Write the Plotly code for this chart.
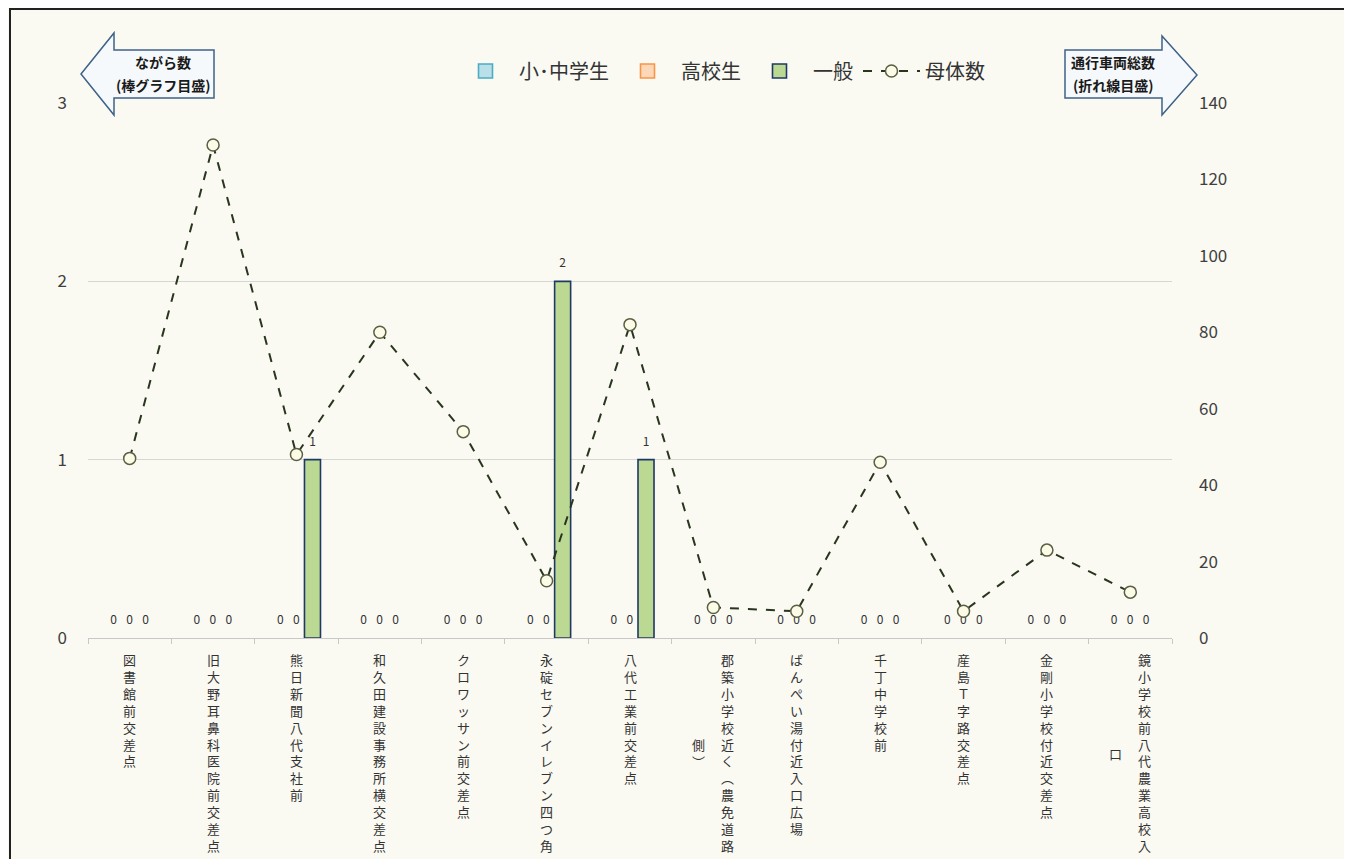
import plotly.graph_objects as go

# ---------------- data ----------------
categories = [
    "図書館前交差点",
    "旧大野耳鼻科医院前交差点",
    "熊日新聞八代支社前",
    "和久田建設事務所横交差点",
    "クロワッサン前交差点",
    "永碇セブンイレブン四つ角",
    "八代工業前交差点",
    "郡築小学校近く（農免道路側）",
    "ばんぺい湯付近 入口広場",
    "千丁中学校前",
    "産島Ｔ字路交差点",
    "金剛小学校付近交差点",
    "鏡小学校前 八代農業高校入口",
]
series_names = ["小･中学生", "高校生", "一般"]
elementary = [0, 0, 0, 0, 0, 0, 0, 0, 0, 0, 0, 0, 0]
high_school = [0, 0, 0, 0, 0, 0, 0, 0, 0, 0, 0, 0, 0]
general = [0, 0, 1, 0, 0, 2, 1, 0, 0, 0, 0, 0, 0]
line_name = "母体数"
total_vehicles = [47, 129, 48, 80, 54, 15, 82, 8, 7, 46, 7, 23, 12]
left_ticks = [0, 1, 2, 3]
right_ticks = [0, 20, 40, 60, 80, 100, 120, 140]
left_arrow_text = ["ながら数", "(棒グラフ目盛)"]
right_arrow_text = ["通行車両総数", "(折れ線目盛)"]

# ---------------- layout helpers ----------------
OFF = 8  # page body margin of the browser
W, H = 1352 - 2 * OFF, 867 - 2 * OFF
# plot area in reference-picture pixels
RL, RR, RT, RB = 88, 1172, 103, 638
PL, PR, PT, PB = RL - OFF, RR - OFF, RT - OFF, RB - OFF
FONT = "Noto Sans CJK JP"
BG = "#fafaf3"
LABEL_SIZE = 13
LH = 1.3 * LABEL_SIZE


def px_x(p):
    return (p - RL) / (RR - RL)


def px_y(p):
    return (RB - p) / (RB - RT)


# where long vertical labels wrap into a second column
column_break = {7: 12, 12: 13}
vert_map = str.maketrans({"（": "︵", "）": "︶"})


def chars(s):
    return [ch for ch in s.translate(vert_map) if ch != " "]


def stack(s):
    return "<br>".join(chars(s))


fig = go.Figure()

bar_styles = [
    dict(fill="#b9dfe9", line="#4bacc6"),
    dict(fill="#fcd7b8", line="#f79646"),
    dict(fill="#bcd994", line="#1f3864"),
]
for name, vals, st in zip(series_names, [elementary, high_school, general], bar_styles):
    fig.add_trace(go.Bar(
        x=categories, y=vals, name=name, legendgroup=name, showlegend=False,
        marker=dict(color=st["fill"],
                    line=dict(color=st["line"], width=[1.6 if v else 0 for v in vals])),
        text=[f"<span style='font-size:12px'>{v}</span><br> " for v in vals],
        textposition="outside", constraintext="none",
        textfont=dict(size=7, color="#333333", family=FONT),
        cliponaxis=False,
        yaxis="y",
    ))

# legend keys for the bar series (outlined swatches)
for name, st in zip(series_names, bar_styles):
    fig.add_trace(go.Scatter(
        x=[None], y=[None], name=name, legendgroup=name, mode="markers",
        marker=dict(symbol="square", size=14, color=st["fill"],
                    line=dict(color=st["line"], width=1.6)),
    ))

fig.add_trace(go.Scatter(
    x=categories, y=total_vehicles, name=line_name, yaxis="y2",
    mode="lines+markers",
    line=dict(color="#2a3520", width=2, dash="dash"),
    marker=dict(size=12, color="#fbfbe8", line=dict(color="#5a6040", width=1.5)),
))

# vertical category labels (as text through the x axis)
annotations = []
lab_font = dict(size=LABEL_SIZE, color="#333333", family=FONT)
for i, cat in enumerate(categories):
    if i in column_break:
        n = column_break[i]
        main, second = cat[:n], cat[n:]
        n_main = len(chars(main))
        annotations.append(dict(x=cat, xref="x", y=0, yref="paper", text=stack(main),
                                showarrow=False, yanchor="top", xanchor="center",
                                xshift=14, yshift=-10, font=lab_font))
        annotations.append(dict(x=cat, xref="x", y=0, yref="paper", text=stack(second),
                                showarrow=False, yanchor="middle", xanchor="center",
                                xshift=-15, yshift=-10 - n_main * LH / 2 - 4, font=lab_font))
    else:
        annotations.append(dict(x=cat, xref="x", y=0, yref="paper", text=stack(cat),
                                showarrow=False, yanchor="top", xanchor="center",
                                yshift=-10, font=lab_font))

# arrow captions
cap_font = dict(size=14, color="#1a1a1a", family=FONT)
for txt, y in zip(left_arrow_text, [62, 85]):
    annotations.append(dict(x=px_x(163), y=px_y(y), xref="paper", yref="paper", text=f"<b>{txt}</b>",
                            showarrow=False, xanchor="center", yanchor="middle", font=cap_font))
for txt, y in zip(right_arrow_text, [62, 85]):
    annotations.append(dict(x=px_x(1113), y=px_y(y), xref="paper", yref="paper", text=f"<b>{txt}</b>",
                            showarrow=False, xanchor="center", yanchor="middle", font=cap_font))


def poly(points):
    return "M " + " L ".join(f"{px_x(a):.5f},{px_y(b):.5f}" for a, b in points) + " Z"


shapes = [
    # outer frame
    dict(type="rect", xref="paper", yref="paper",
         x0=px_x(10), x1=px_x(1345), y0=px_y(890), y1=px_y(9),
         line=dict(color="#222222", width=2), fillcolor="rgba(0,0,0,0)", layer="below"),
    # left arrow
    dict(type="path", xref="paper", yref="paper",
         path=poly([(81, 74), (114, 33), (114, 50), (214, 50), (214, 98), (114, 98), (114, 115)]),
         line=dict(color="#3f6288", width=1.5), fillcolor="#f5f9fc"),
    # right arrow
    dict(type="path", xref="paper", yref="paper",
         path=poly([(1065, 50), (1162, 50), (1162, 36), (1197, 75), (1162, 115), (1162, 98), (1065, 98)]),
         line=dict(color="#3f6288", width=1.5), fillcolor="#f5f9fc"),
]

fig.update_layout(
    width=W, height=H,
    margin=dict(l=PL, r=W - PR, t=PT, b=H - PB, autoexpand=False),
    paper_bgcolor=BG, plot_bgcolor=BG,
    font=dict(family=FONT, color="#404040"),
    barmode="group", bargap=0.424, bargroupgap=0,
    showlegend=True,
    legend=dict(orientation="h", x=px_x(452), y=px_y(71), xanchor="left", yanchor="middle",
                font=dict(size=20, color="#333333", family=FONT),
                bgcolor="rgba(0,0,0,0)", itemwidth=57, traceorder="normal"),
    xaxis=dict(range=[-0.5, len(categories) - 0.5], showticklabels=False, showgrid=False,
               showline=True, linecolor="#c8c8c8",
               linewidth=1, ticks="outside", tickson="boundaries", ticklen=5,
               tickcolor="#c8c8c8", zeroline=False),
    yaxis=dict(range=[0, 3], tickvals=left_ticks, showgrid=True, gridcolor="#d6d6d2",
               gridwidth=1, zeroline=False, showline=False,
               tickfont=dict(size=17, color="#404040", family=FONT), ticklabelstandoff=20),
    yaxis2=dict(range=[0, 140], tickvals=right_ticks, overlaying="y", side="right",
                showgrid=False, zeroline=False, showline=False,
                tickfont=dict(size=17, color="#404040", family=FONT), ticklabelstandoff=26),
    annotations=annotations,
    shapes=shapes,
)

fig.write_html("out.html")
